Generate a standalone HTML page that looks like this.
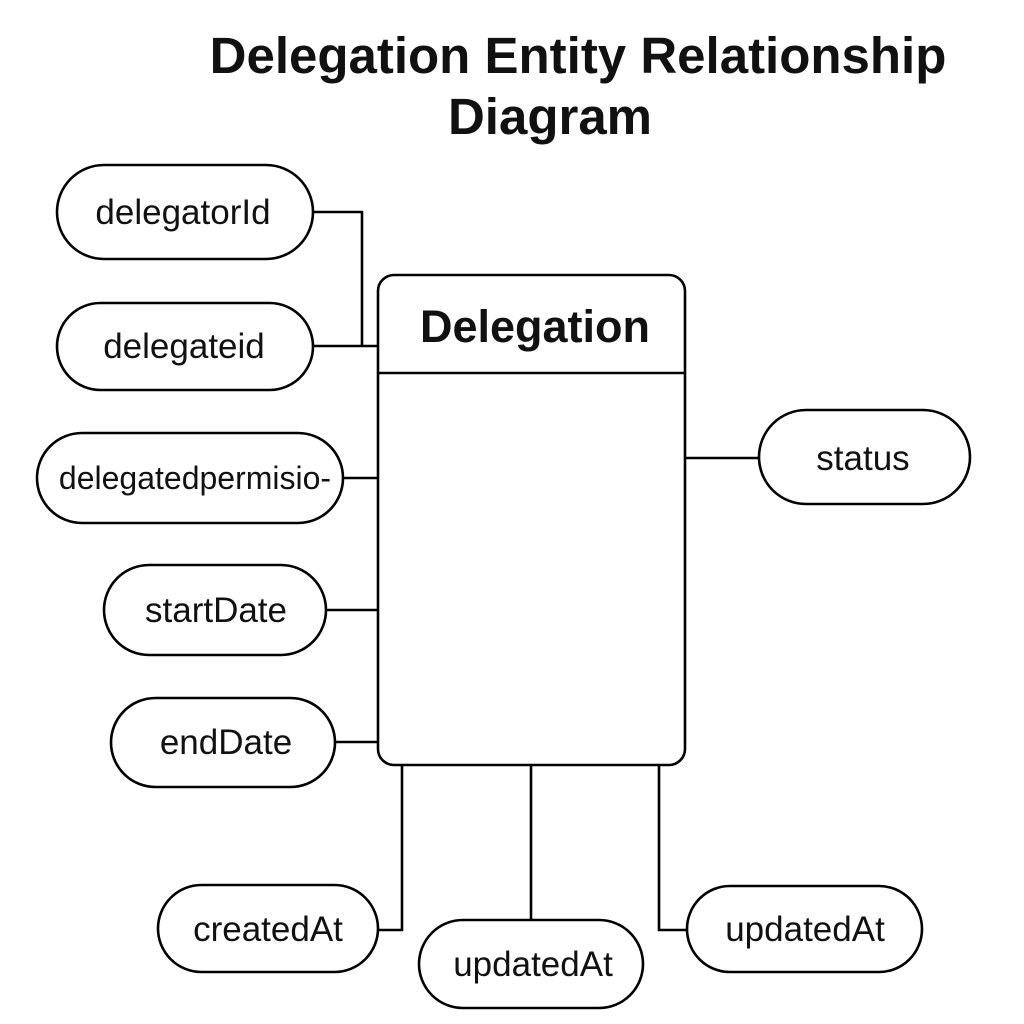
<!DOCTYPE html>
<html><head><style>
body{margin:0;background:#fff;}
svg{display:block}
text{font-family:"Liberation Sans",sans-serif;fill:#111;}
</style></head><body>
<svg width="1024" height="1024" viewBox="0 0 1024 1024">
<rect width="1024" height="1024" fill="#fff"/>
<text x="578" y="73" font-size="51" font-weight="bold" text-anchor="middle">Delegation Entity Relationship</text>
<text x="550" y="134" font-size="51" font-weight="bold" text-anchor="middle">Diagram</text>
<g fill="none" stroke="#000" stroke-width="2.6">
<rect x="378" y="275" width="307" height="490" rx="16"/>
<line x1="378" y1="373" x2="685" y2="373"/>
<rect x="57" y="165" width="256" height="94" rx="47"/>
<rect x="57" y="303" width="256" height="87" rx="43.5"/>
<rect x="37" y="433" width="306" height="90" rx="45"/>
<rect x="104" y="565" width="222" height="90" rx="45"/>
<rect x="111" y="698" width="224" height="89" rx="44.5"/>
<rect x="759" y="410" width="211" height="94" rx="47"/>
<rect x="158" y="885" width="220" height="87" rx="43.5"/>
<rect x="419" y="920" width="224" height="88" rx="44"/>
<rect x="687" y="886" width="235" height="86" rx="43"/>
<polyline points="313,212 362,212 362,346"/>
<line x1="313" y1="346" x2="378" y2="346"/>
<line x1="343" y1="478" x2="378" y2="478"/>
<line x1="326" y1="610" x2="378" y2="610"/>
<line x1="335" y1="742" x2="378" y2="742"/>
<line x1="685" y1="458" x2="759" y2="458"/>
<polyline points="378,930 402,930 402,765"/>
<line x1="531" y1="765" x2="531" y2="920"/>
<polyline points="659,765 659,930 687,930"/>
</g>
<text x="535" y="342" font-size="45" font-weight="bold" text-anchor="middle">Delegation</text>
<g font-size="35" text-anchor="middle">
<text x="183" y="224">delegatorId</text>
<text x="184" y="358">delegateid</text>
<text x="195" y="489" font-size="32">delegatedpermisio-</text>
<text x="216" y="622">startDate</text>
<text x="226" y="754">endDate</text>
<text x="863" y="470">status</text>
<text x="268" y="941">createdAt</text>
<text x="533" y="976">updatedAt</text>
<text x="805" y="941">updatedAt</text>
</g>
</svg>
</body></html>
